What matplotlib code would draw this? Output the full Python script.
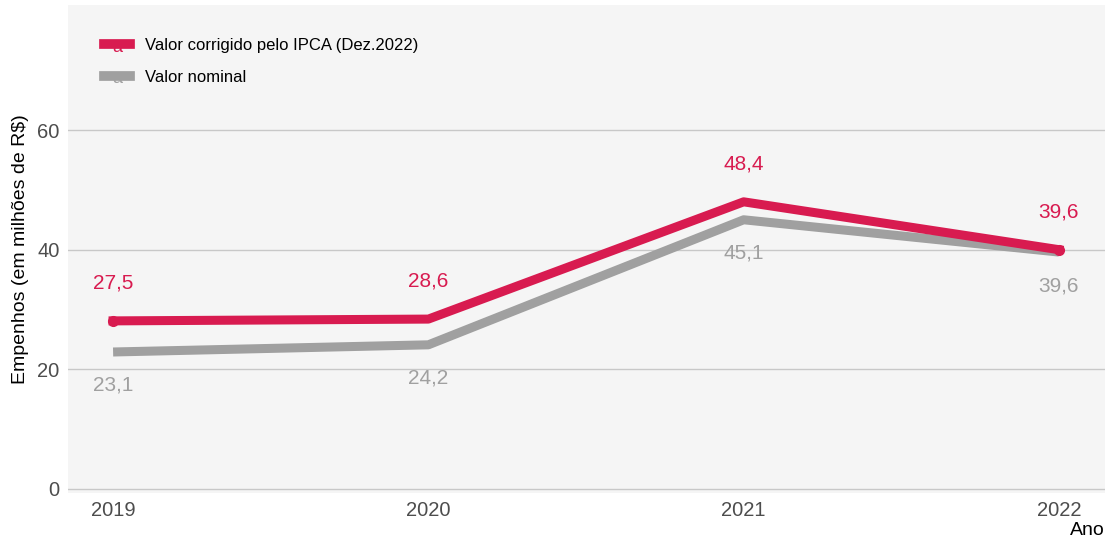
import matplotlib.pyplot as plt
from matplotlib.legend_handler import HandlerBase
from matplotlib.lines import Line2D
from matplotlib.text import Text

plt.rcParams['font.family'] = ['Liberation Sans', 'DejaVu Sans']

anos = [2019, 2020, 2021, 2022]
corrigido = [28.1, 28.4, 48.0, 40.0]
nominal = [22.9, 24.1, 45.0, 39.6]
rot_corrigido = ['27,5', '28,6', '48,4', '39,6']
rot_nominal = ['23,1', '24,2', '45,1', '39,6']

cor_red = '#D81B50'
cor_gray = '#A0A0A0'


class LineWithA(HandlerBase):
    def create_artists(self, legend, orig_handle, xdescent, ydescent,
                       width, height, fontsize, trans):
        y = height / 2 - ydescent
        ln = Line2D([-xdescent, width - xdescent], [y, y],
                    color=orig_handle.get_color(), lw=7, transform=trans)
        t = Text((width - xdescent) / 2, y - 2, 'a', color=orig_handle.get_color(),
                 ha='center', va='center', fontsize=13, transform=trans)
        return [ln, t]


fig = plt.figure(figsize=(11.11, 5.44), dpi=100)
ax = fig.add_axes([68 / 1111, 51 / 544, 1037 / 1111, 488 / 544])
ax.set_facecolor('#F5F5F5')

l1, = ax.plot(anos, corrigido, color=cor_red, lw=6.5, zorder=3)
ax.plot([anos[0], anos[-1]], [corrigido[0], corrigido[-1]], 'o', color=cor_red, ms=7, zorder=3)
l2, = ax.plot(anos, nominal, color=cor_gray, lw=6.5, solid_capstyle='butt', zorder=2)

for x, y, s in zip(anos, corrigido, rot_corrigido):
    ax.text(x, y + 6.3, s, color=cor_red, ha='center', va='center', fontsize=15)
for x, y, s in zip(anos, nominal, rot_nominal):
    ax.text(x, y - 5.6, s, color=cor_gray, ha='center', va='center', fontsize=15)

ax.set_xlim(2018.857, 2022.146)
ax.set_ylim(-0.67, 80.9)
ax.set_yticks([0, 20, 40, 60])
ax.set_xticks(anos)
ax.grid(axis='y', color='#C8C8C8', lw=1)
ax.set_axisbelow(True)
for s in ax.spines.values():
    s.set_visible(False)
ax.tick_params(length=0, labelsize=14.5, labelcolor='#4D4D4D', pad=6)

ax.set_ylabel('Empenhos (em milhões de R$)', fontsize=14, color='black', labelpad=6)
ax.set_xlabel('Ano', fontsize=14, color='black')
ax.xaxis.set_label_coords(1.0, -0.06)
ax.xaxis.label.set_ha('right')
ax.xaxis.label.set_va('top')

ax.legend([l1, l2], ['Valor corrigido pelo IPCA (Dez.2022)', 'Valor nominal'],
          handler_map={Line2D: LineWithA()}, loc='upper left',
          bbox_to_anchor=(0.02, 0.963), frameon=False, fontsize=12,
          handlelength=1.6, handletextpad=0.85, labelspacing=1.0)

fig.savefig('out.png', dpi=100)
